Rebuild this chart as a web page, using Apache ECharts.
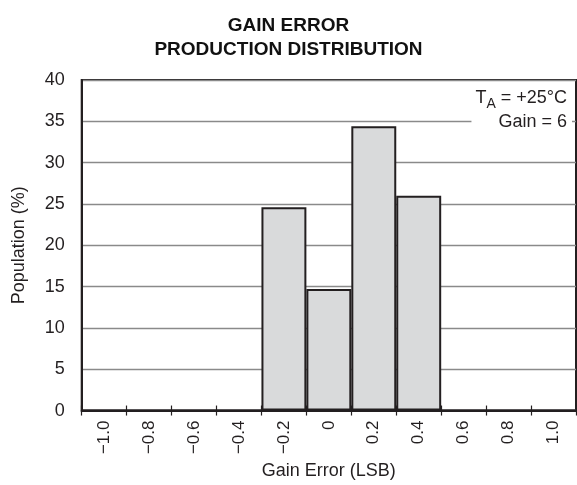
<!DOCTYPE html>
<html>
<head>
<meta charset="utf-8">
<script src="https://cdn.jsdelivr.net/npm/echarts@6/dist/echarts.min.js"></script>
<style>
html,body{margin:0;padding:0;background:#fff;}
#chart{width:577px;height:485px;}
</style>
</head>
<body>
<div id="chart"></div>
<script>
var categories = ['\u22121.0', '\u22120.8', '\u22120.6', '\u22120.4', '\u22120.2', '0', '0.2', '0.4', '0.6', '0.8', '1.0'];
var population = [0, 0, 0, 0, 24.6, 14.7, 34.4, 26.0, 0, 0, 0];
var yTicks = [0, 5, 10, 15, 20, 25, 30, 35, 40];

var FONT = '"Liberation Sans", Arial, Helvetica, sans-serif';
var INK = '#231f20';

var chart = echarts.init(document.getElementById('chart'), null, {renderer: 'canvas'});
var option = {
  backgroundColor: '#fff',
  animation: false,
  title: {
    text: 'GAIN ERROR\nPRODUCTION DISTRIBUTION',
    left: 'center',
    top: 9,
    textStyle: {fontFamily: FONT, fontSize: 19, fontWeight: 'bold', color: '#111', lineHeight: 24}
  },
  grid: {
    left: 81.7, right: 1, top: 80, bottom: 70,
    containLabel: false,
    show: true, borderColor: INK, borderWidth: 2, backgroundColor: 'transparent'
  },
  xAxis: [{
    type: 'category',
    data: categories,
    position: 'bottom',
    boundaryGap: true,
    name: 'Gain Error (LSB)',
    nameLocation: 'middle',
    nameGap: 51,
    nameTextStyle: {fontFamily: FONT, fontSize: 18, color: INK},
    axisLine: {show: true, lineStyle: {color: INK, width: 2}},
    axisTick: {show: true, alignWithLabel: false, inside: false, length: 5, lineStyle: {color: INK, width: 1.2}},
    axisLabel: {rotate: 90, margin: 10, fontFamily: FONT, fontSize: 17, color: INK, interval: 0},
    splitLine: {show: false}
  }, {
    type: 'category',
    data: categories,
    position: 'bottom',
    boundaryGap: true,
    axisLine: {show: false},
    axisTick: {show: true, alignWithLabel: false, inside: true, length: 5, lineStyle: {color: INK, width: 1.2}},
    axisLabel: {show: false},
    splitLine: {show: false}
  }],
  yAxis: {
    type: 'value',
    min: yTicks[0],
    max: yTicks[yTicks.length - 1],
    interval: yTicks[1] - yTicks[0],
    name: 'Population (%)',
    nameLocation: 'middle',
    nameGap: 54,
    nameTextStyle: {fontFamily: FONT, fontSize: 18, color: INK},
    axisLine: {show: true, lineStyle: {color: INK, width: 2}},
    axisTick: {show: false},
    axisLabel: {margin: 17, fontFamily: FONT, fontSize: 18, color: INK},
    splitLine: {show: true, lineStyle: {color: '#8a8a8a', width: 1.3}}
  },
  series: [{
    type: 'bar',
    data: population,
    barCategoryGap: '0%',
    barGap: '0%',
    itemStyle: {color: '#d9dadb', borderColor: INK, borderWidth: 2},
    z: 3
  }],
  graphic: [{
    type: 'text',
    right: 10,
    top: 89,
    z: 100,
    style: {
      text: '{m|T}{s|A}{m| = +25\u00b0C}',
      font: '18px ' + FONT,
      fill: INK,
      rich: {
        m: {fontFamily: FONT, fontSize: 18, color: INK, lineHeight: 26, verticalAlign: 'middle'},
        s: {fontFamily: FONT, fontSize: 14, color: INK, lineHeight: 16, verticalAlign: 'bottom'}
      }
    }
  }, {
    type: 'text',
    right: 5,
    top: 112,
    z: 100,
    style: {
      text: 'Gain = 6',
      font: '18px ' + FONT,
      fill: INK,
      backgroundColor: '#fff',
      padding: [1, 5, 1, 27]
    }
  }]
};
chart.setOption(option);
</script>
</body>
</html>
